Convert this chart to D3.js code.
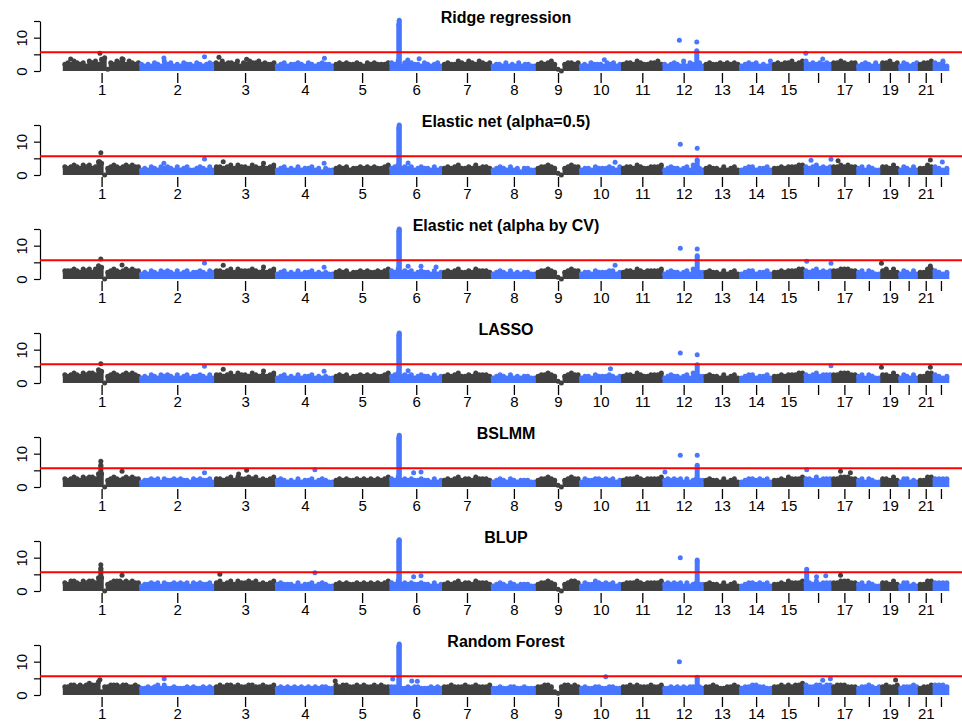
<!DOCTYPE html>
<html>
<head>
<meta charset="utf-8">
<script src="https://cdnjs.cloudflare.com/ajax/libs/d3/7.8.5/d3.min.js"></script>
<style>
  body { margin: 0; background: #fff; }
  text { font-family: "Liberation Sans", Arial, sans-serif; }
</style>
</head>
<body>
<div id="chart"></div>
<script>
// chromosome layout (Mb, hg19) and tick labels
var chromosomes = [1,2,3,4,5,6,7,8,9,10,11,12,13,14,15,16,17,18,19,20,21,22];
var chrLengths = [249,243,198,191,181,171,159,146,141,136,135,134,115,107,103,90,81,78,59,63,48,51];
var chrLabels = ["1","2","3","4","5","6","7","8","9","10","11","12","13","14","15","","17","","19","","21",""];
var yTicks = [0,5,10,15];
var yTickLabels = ["0","","10",""];
var threshold = 5.6;
var panelTitles = ["Ridge regression","Elastic net (alpha=0.5)","Elastic net (alpha by CV)","LASSO","BSLMM","BLUP","Random Forest"];

// dense SNP band: one string per chromosome, each digit = upper -log10(p) in steps of 0.5
var ridgeBand = ["4546545365647815465746545","43435436453435443543454","54645546354655645445","34534454354345443",
  "4545445435454445","5463545443543453","45446546546545","34435343534433","4545641045545","3435444354534",
  "455465445564","4345436354453","4544545454","345453434","454556456","64545454","5565455","3454353",
  "55645","354345","4556","5463"];
var enetBand = ["5456546564587045654565655","34354354543534533454353","55456465546545456","34534353445342433",
  "4545344545454456","4564545345443534","45456445464554","3454353424433","4556541045655","344354445435",
  "455465445556","3454434536543","4544353453","345534453","445455566","54564545","5565655","4535433",
  "55464","354353","4465","5434"];
var enetCvBand = ["5556546564687045654565655","34354354543534534454354","55456465556545456","34534353445343433",
  "4545344545445456","5464545345443534","45456445465554","3454353434433","4556541045655","344354445534",
  "455465455556","3454434536544","4544353453","345534453","445455566","54564545","5566655","4535433",
  "56464","354353","4466","5434"];
var lassoBand = ["5456546566587045654565654","34354354543534534454353","55456465546545456","34534353445343433",
  "4545344545454456","4564545345443534","45456445465554","3454353434433","4556541045655","344354445434",
  "455465445556","3454434536544","4544353453","345534453","445455566","54564555","5566655","4535433",
  "55464","354353","4466","5434"];
var bslmmBand = ["5456546566588045654565655","34454535445454435454453","55456465565645456","45434353445345433",
  "4545445454545456","5464545445443534","45456455465554","3454354344433","4556541045655","354455454534",
  "455565455556","4545453534544","4544353453","345545453","445465556","55464555","5566655","4535433",
  "55464","355343","4466","5555"];
var blupBand = ["5466546566588045666565655","34454535445454535454453","56456465565645456","45444353445345433",
  "4545445454545456","5464545445443534","45456455465554","3454354344433","4556541045665","354465454534",
  "455565455556","4545453534544","4544353453","345545453","445465556","55464555","5566655","4535433",
  "55464","355343","4466","5555"];
var rfBand = ["5566565676682556665665565","44545646445444545445454","56566565566556556","45454545454545544",
  "6566556565565655","5554454554445454","55655565565556","4454455445444","5566521566565","454455445544",
  "556565556556","4454545455454","5565445565","455665544","556565667","65566566","5666555","4556545",
  "56556","455565","4556","6665"];

// solid stacks of SNPs: [chromosome, position Mb, top -log10(p)]
var ridgeColumns = [[6,29.0,14.0],[6,30.3,15.2],[12,109.6,6.1]];
var enetColumns = [[6,29.0,14.2],[6,30.3,15.0],[12,111,4.6]];
var enetCvColumns = [[6,29.0,14.4],[6,30.3,15.0],[12,111,7.0]];
var lassoColumns = [[6,29.0,14.4],[6,30.3,15.0],[12,111,5.5]];
var bslmmColumns = [[1,122,6.6],[6,29.0,14.8],[6,30.3,15.5],[12,111,6.5]];
var blupColumns = [[1,122,6.8],[6,29.0,15.0],[6,30.3,15.4],[12,111,9.3],[16,8,5.8]];
var rfColumns = [[6,29.0,14.6],[6,30.3,15.3],[12,111,5.3]];

// isolated SNPs above the band: [chromosome, position Mb, -log10(p)]
var ridgeHits = [[1,24,3.6],[1,119,5.3],[1,191,3.7],[2,78,3.9],[2,210,4.3],[3,14,4.1],[3,104,3.5],[4,159,3.8],
  [6,58,3.3],[6,95,3.7],[10,80,3.4],[12,53,9.2],[12,109.6,8.7],[14,100,3.0],[16,5,5.3],[16,60,3.6]];
var enetHits = [[1,122,6.7],[1,118,4.0],[2,78,3.5],[2,210,4.8],[3,28,4.0],[3,159,3.5],[4,158,3.5],[6,59,3.6],
  [10,115,3.8],[12,56,9.2],[12,111,8.0],[16,22,4.4],[16,87,4.7],[17,20,4.3],[21,39,4.5],[22,30,3.9]];
var enetCvHits = [[1,122,6.0],[1,191,4.2],[2,210,4.8],[3,28,4.1],[3,159,3.6],[4,158,3.5],[6,59,3.8],[6,101,3.8],
  [6,150,3.6],[10,115,4.1],[12,56,9.2],[12,111,9.0],[16,8,5.3],[16,87,4.7],[19,2,4.7],[21,39,3.9]];
var lassoHits = [[1,122,5.8],[2,210,5.0],[3,28,4.1],[3,159,3.6],[4,158,3.5],[6,59,3.7],[10,100,4.3],
  [12,56,9.0],[12,111,8.5],[16,87,5.2],[19,2,4.7],[21,39,4.7]];
var bslmmHits = [[1,122,7.7],[1,191,4.7],[2,210,4.3],[3,78,3.9],[3,104,5.0],[4,128,5.2],[6,77,4.3],[6,101,4.5],
  [12,6,4.5],[12,56,9.5],[12,111,9.5],[16,8,5.2],[17,28,4.7],[17,60,4.3]];
var blupHits = [[1,122,7.9],[1,191,4.7],[3,17,5.0],[4,128,5.5],[6,77,4.3],[6,101,4.6],[12,56,10.0],
  [16,8,6.5],[16,40,4.3],[16,70,4.6],[17,28,4.7]];
var rfHits = [[1,119,4.6],[2,79,4.9],[5,3,4.2],[6,9,4.8],[6,71,4.2],[6,89,4.1],[10,84.5,5.5],[12,53,10.0],
  [16,60,4.4],[16,85,4.9],[19,48,4.5]];

var panels = [
  [ridgeBand, ridgeColumns, ridgeHits],
  [enetBand, enetColumns, enetHits],
  [enetCvBand, enetCvColumns, enetCvHits],
  [lassoBand, lassoColumns, lassoHits],
  [bslmmBand, bslmmColumns, bslmmHits],
  [blupBand, blupColumns, blupHits],
  [rfBand, rfColumns, rfHits]
];

var colors = ["#404040", "#4876ff"];
var r = 2.5;

var svg = d3.select("#chart").append("svg").attr("width", 962).attr("height", 722);

var offsets = [0].concat(Array.from(d3.cumsum(chrLengths))).slice(0, 22);
var x = d3.scaleLinear().domain([0, d3.sum(chrLengths)]).range([63.3, 948.8]);
var centers = chrLengths.map(function (len, i) { return offsets[i] + len / 2; });

function drawPanel(k, band, columns, hits) {
  var g = svg.append("g").attr("transform", "translate(0," + (k * 104) + ")");
  var y = d3.scaleLinear().domain([0, 15]).range([71, 21]);

  band.forEach(function (s, ci) {
    var n = s.length, len = chrLengths[ci], start = offsets[ci];
    var vals = s.split("").map(function (ch) { return +ch * 0.5; });
    var cg = g.append("g").attr("fill", colors[ci % 2]);
    cg.selectAll("rect").data(vals).enter().append("rect")
      .attr("x", function (d, i) { return x(start + i * len / n) - 0.5; })
      .attr("width", function (d, i) { return x(start + (i + 1) * len / n) - x(start + i * len / n) + 1; })
      .attr("y", function (d) { return y(d); })
      .attr("height", function (d) { return y(0) - y(d); });
    cg.selectAll("circle").data(vals).enter().append("circle")
      .attr("cx", function (d, i) { return x(start + (i + 0.5) * len / n); })
      .attr("cy", function (d) { return y(d); })
      .attr("r", r);
  });

  g.append("g").selectAll("rect").data(columns).enter().append("rect")
    .attr("fill", function (d) { return colors[(d[0] - 1) % 2]; })
    .attr("x", function (d) { return x(offsets[d[0] - 1] + d[1]) - r; })
    .attr("width", 2 * r)
    .attr("y", function (d) { return y(d[2]); })
    .attr("height", function (d) { return y(0) - y(d[2]); });
  g.append("g").selectAll("circle").data(columns.concat(hits)).enter().append("circle")
    .attr("fill", function (d) { return colors[(d[0] - 1) % 2]; })
    .attr("cx", function (d) { return x(offsets[d[0] - 1] + d[1]); })
    .attr("cy", function (d) { return y(d[2]); })
    .attr("r", r);

  // y axis
  var ya = g.append("g").attr("transform", "translate(40,0)")
    .call(d3.axisLeft(y).tickValues(yTicks).tickSize(6).tickSizeOuter(0)
      .tickFormat(function (d, i) { return yTickLabels[i]; }));
  ya.select(".domain").attr("stroke", "#000").attr("stroke-width", 1.2);
  ya.selectAll(".tick line").attr("stroke", "#000").attr("stroke-width", 1.2);
  ya.selectAll(".tick text")
    .attr("x", 0).attr("dy", 0)
    .attr("transform", "translate(-13,0) rotate(-90)")
    .attr("text-anchor", "middle")
    .attr("fill", "#000")
    .style("font-size", "15px");

  // x axis (ticks only)
  var xa = g.append("g").attr("transform", "translate(0,73)")
    .call(d3.axisBottom(x).tickValues(centers).tickSize(10).tickPadding(1)
      .tickFormat(function (d, i) { return chrLabels[i]; }));
  xa.select(".domain").remove();
  xa.selectAll(".tick line").attr("stroke", "#000").attr("stroke-width", 1.3);
  xa.selectAll(".tick text").attr("fill", "#000").style("font-size", "15px");

  // suggestive line
  g.append("line")
    .attr("x1", 40).attr("x2", 962)
    .attr("y1", y(threshold)).attr("y2", y(threshold))
    .attr("stroke", "#ff0000").attr("stroke-width", 2);

  g.append("text")
    .attr("x", 506).attr("y", 23)
    .attr("text-anchor", "middle")
    .style("font-size", "16px").style("font-weight", "bold")
    .text(panelTitles[k]);
}

panels.forEach(function (p, k) { drawPanel(k, p[0], p[1], p[2]); });
</script>
</body>
</html>
